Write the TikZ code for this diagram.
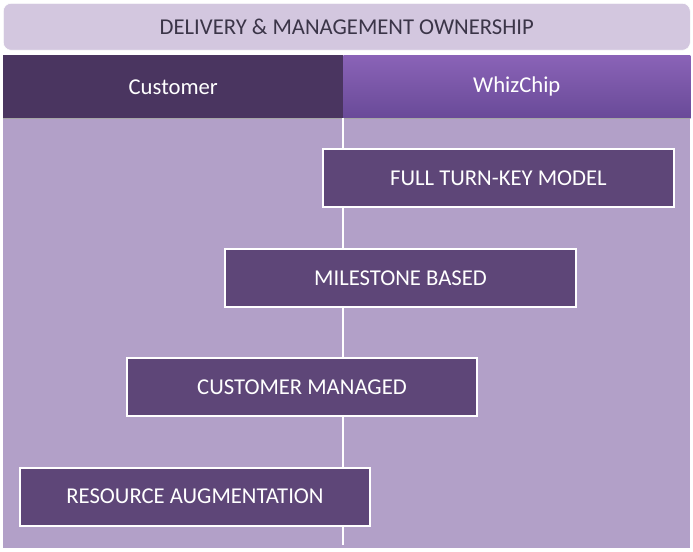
\documentclass[tikz,border=0pt]{standalone}
\usepackage{fontspec}
\setmainfont{Carlito}
\usetikzlibrary{calc,positioning}

\definecolor{titlebg}{HTML}{D3C7DF}
\definecolor{titletext}{HTML}{3B3548}
\definecolor{custbg}{HTML}{4A3560}
\definecolor{whiztop}{HTML}{8A63B7}
\definecolor{whizbot}{HTML}{694A98}
\definecolor{bodybg}{HTML}{B2A0C8}
\definecolor{boxbg}{HTML}{5E4678}

\begin{document}
\begin{tikzpicture}[
  x=0.75pt,y=-0.75pt,
  modelbox/.style={draw=white, line width=1.5pt, fill=boxbg, text=white,
    minimum width=263pt, minimum height=43.5pt, inner sep=0pt,
    font=\fontsize{17}{20}\selectfont},
  headcell/.style={minimum height=47.25pt, inner sep=0pt, text=white,
    anchor=north west, font=\fontsize{17}{20}\selectfont},
  ]
  \useasboundingbox (0,0) rectangle (693,552);
  \fill[white] (0,0) rectangle (693,552);

  % title bar
  \node (title) [fill=titlebg, draw=white, rounded corners=6pt, anchor=north west,
    minimum width=515.25pt, minimum height=35.25pt, inner sep=0pt, text=titletext,
    font=\fontsize{17}{20}\selectfont] at (3,3) {DELIVERY \& MANAGEMENT OWNERSHIP};

  % owner columns
  \node (customer) [headcell, fill=custbg, minimum width=255pt] at (3,55) {Customer};
  \node (whizchip) [headcell, top color=whiztop, bottom color=whizbot,
    minimum width=260.25pt] at (343,55) {WhizChip};

  % body
  \fill[bodybg] (3,118) rectangle (690,548);
  \draw[black!35, line width=1pt] (3,118.5) -- (690,118.5);

  \coordinate (axis_top) at (343,118);
  \coordinate (axis_bot) at (343,545);
  \draw[white, line width=1.8pt] (axis_top) -- (axis_bot);

  \foreach \x/\y/\txt/\nm in {498.5/178/FULL TURN-KEY MODEL/turnkey,
      400.5/278.5/MILESTONE BASED/milestone,
      302/387.5/CUSTOMER MANAGED/custmanaged,
      195/496.5/RESOURCE AUGMENTATION/resaug}
  {
    \node (\nm) [modelbox] at (\x,\y) {\txt};
  }

\end{tikzpicture}
\end{document}
